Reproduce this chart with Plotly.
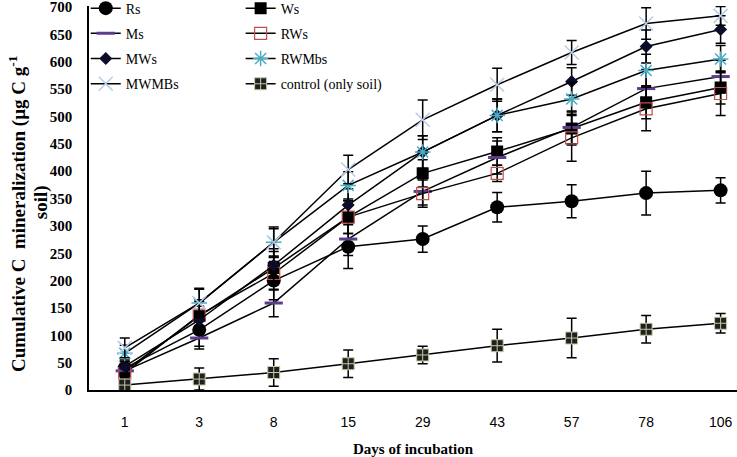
import plotly.graph_objects as go

days = ["1", "3", "8", "15", "29", "43", "57", "78", "106"]

Rs = [40, 110, 200, 262, 276, 334, 345, 360, 365]
Rs_err = [12, 30, 35, 40, 24, 27, 30, 40, 23]
Ws = [35, 135, 223, 316, 396, 436, 478, 526, 553]
Ws_err = [12, 30, 30, 30, 25, 25, 30, 30, 30]
Ms = [35, 95, 159, 276, 363, 425, 480, 551, 573]
Ms_err = [10, 20, 25, 30, 25, 30, 30, 35, 30]
RWs = [31, 137, 213, 316, 359, 396, 461, 514, 542]
RWs_err = [10, 25, 30, 30, 25, 15, 43, 40, 40]
MWs = [43, 128, 228, 338, 435, 502, 564, 628, 659]
MWs_err = [12, 25, 30, 30, 30, 30, 25, 30, 25]
RWMbs = [67, 159, 270, 374, 435, 502, 532, 584, 605]
RWMbs_err = [15, 25, 25, 25, 30, 30, 30, 30, 25]
MWMBs = [77, 159, 270, 403, 494, 558, 617, 670, 684]
MWMBs_err = [18, 27, 28, 26, 36, 30, 22, 29, 17]
control = [9, 20, 32, 48, 64, 81, 95, 111, 122]
control_err = [6, 20, 25, 25, 16, 30, 36, 25, 18]

series = [
    ("Rs", Rs, Rs_err, dict(symbol="circle", size=14, color="black"), "legend"),
    ("Ws", Ws, Ws_err, dict(symbol="square", size=12, color="black"), "legend2"),
    ("Ms", Ms, Ms_err, dict(symbol="line-ew", size=13, color="#5b3d8c", line=dict(color="#5b3d8c", width=3)), "legend"),
    ("RWs", RWs, RWs_err, dict(symbol="square-open", size=12, color="#c0504d", line=dict(color="#c0504d", width=1.2)), "legend2"),
    ("MWs", MWs, MWs_err, dict(symbol="diamond", size=10, color="#0b0b2a"), "legend"),
    ("RWMbs", RWMbs, RWMbs_err, dict(symbol="asterisk-open", size=13, color="#4bacc6", line=dict(color="#4bacc6", width=1.5)), "legend2"),
    ("MWMBs", MWMBs, MWMBs_err, dict(symbol="x-thin-open", size=14, color="#b9cde5", line=dict(color="#b9cde5", width=1.5)), "legend"),
    ("control (only soil)", control, control_err, dict(symbol="square-cross", size=12, color="#1e221e", line=dict(color="#c8caa8", width=1)), "legend2"),
]

fig = go.Figure()
for name, vals, err, marker, leg in series:
    fig.add_trace(go.Scatter(
        x=days, y=vals, name=name, mode="lines+markers",
        line=dict(color="black", width=1.5),
        marker=marker,
        error_y=dict(type="data", array=err, visible=True, color="black", thickness=1.5, width=5),
        legend=leg, legendgroup=name,
    ))

legfont = dict(family="Liberation Serif", size=14, color="black")
fig.update_layout(
    width=737, height=457,
    margin=dict(l=89, r=0, t=6, b=67, autoexpand=False),
    plot_bgcolor="white", paper_bgcolor="white",
    showlegend=True,
    legend=dict(x=-0.005, y=1.035, xanchor="left", yanchor="top", font=legfont,
                bgcolor="rgba(0,0,0,0)", tracegroupgap=4, itemwidth=30),
    legend2=dict(x=0.234, y=1.035, xanchor="left", yanchor="top", font=legfont,
                 bgcolor="rgba(0,0,0,0)", tracegroupgap=4, itemwidth=30),
    xaxis=dict(type="category", range=[-0.48, 8.22], showgrid=False, zeroline=False,
               showline=True, linecolor="black", linewidth=1.5, ticks="",
               tickfont=dict(family="Liberation Sans", size=14, color="black"),
               ticklabelstandoff=18, automargin=False, ticklabeloverflow="allow",
               title=dict(text="<b>Days of incubation</b>", standoff=18,
                          font=dict(family="Liberation Serif", size=15, color="black"))),
    yaxis=dict(range=[0, 702], tickvals=list(range(0, 701, 50)), showgrid=False, zeroline=False,
               showline=True, linecolor="black", linewidth=1.5, ticks="",
               tickfont=dict(family="Liberation Serif", size=15, color="black", weight="bold"),
               ticklabelstandoff=12, automargin=False, ticklabeloverflow="allow"),
    annotations=[
        dict(text="<b>Cumulative C  mineralization (µg C g<sup>-1</sup></b>", xref="paper", yref="paper",
             x=-0.11, y=0.46, xanchor="center", yanchor="middle", textangle=-90, showarrow=False,
             font=dict(family="Liberation Serif", size=19, color="black")),
        dict(text="<b>soil)</b>", xref="paper", yref="paper",
             x=-0.075, y=0.49, xanchor="center", yanchor="middle", textangle=-90, showarrow=False,
             font=dict(family="Liberation Serif", size=19, color="black")),
    ],
)

fig.write_html("out.html", config={"displayModeBar": False},
               post_script="document.body.style.margin='0';document.body.style.overflow='hidden';")
